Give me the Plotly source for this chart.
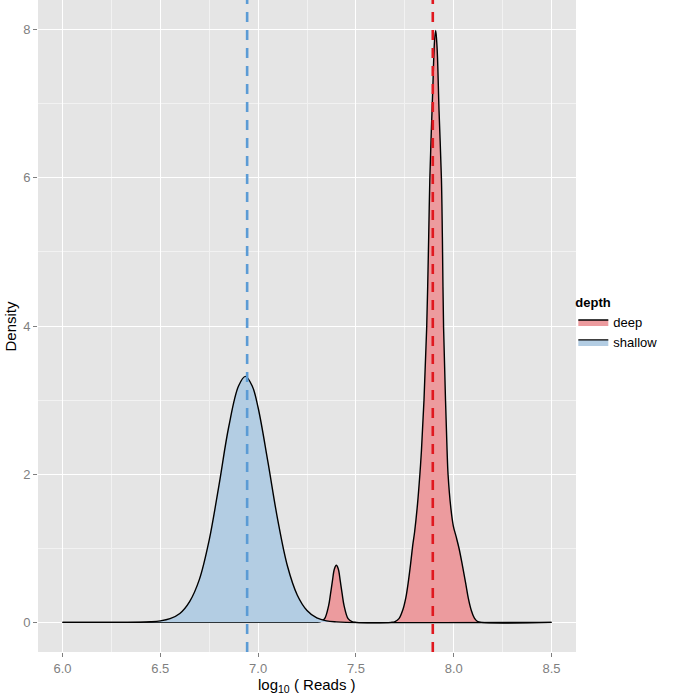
import plotly.graph_objects as go

# density estimates, log10(reads) vs density
shallow_x = [6.0, 6.40, 6.45, 6.50, 6.55, 6.60, 6.65, 6.70, 6.75, 6.80, 6.85, 6.90,
             6.935, 6.97, 7.00, 7.05, 7.10, 7.15, 7.20, 7.25, 7.30, 7.35, 7.40, 7.45, 8.5]
shallow_y = [0.0, 0.003, 0.008, 0.02, 0.05, 0.12, 0.28, 0.58, 1.11, 1.85, 2.64, 3.19,
             3.32, 3.19, 2.90, 2.17, 1.39, 0.76, 0.37, 0.16, 0.06, 0.02, 0.006, 0.0, 0.0]

deep_x = [6.0, 7.28, 7.30, 7.32, 7.34, 7.36, 7.37, 7.38, 7.39, 7.40, 7.41, 7.42, 7.43,
          7.44, 7.46, 7.48, 7.50, 7.68, 7.70, 7.72, 7.74, 7.755, 7.767, 7.78, 7.79,
          7.80, 7.815, 7.827, 7.835, 7.848, 7.862, 7.872, 7.878, 7.893, 7.902, 7.908,
          7.915, 7.925, 7.937, 7.942, 7.948, 7.958, 7.966, 7.971, 7.985, 7.998, 8.012,
          8.027, 8.045, 8.061, 8.075, 8.09, 8.105, 8.12, 8.14, 8.5]
deep_y = [0.0, 0.0, 0.0, 0.01, 0.05, 0.22, 0.38, 0.56, 0.72, 0.77, 0.72, 0.56, 0.38,
          0.22, 0.05, 0.01, 0.0, 0.0, 0.01, 0.05, 0.17, 0.33, 0.53, 0.80, 1.03,
          1.22, 1.60, 2.0, 2.32, 3.0, 4.0, 5.2, 6.0, 7.2, 7.85, 7.99,
          7.75, 6.9, 6.0, 5.2, 4.0, 3.0, 2.32, 2.0, 1.55, 1.30, 1.16,
          1.0, 0.76, 0.53, 0.32, 0.16, 0.06, 0.015, 0.0, 0.0]

depth_levels = ["deep", "shallow"]
depth_means = [7.893, 6.944]

x_ticks = [6.0, 6.5, 7.0, 7.5, 8.0, 8.5]
y_ticks = [0, 2, 4, 6, 8]

fill_colors = {"deep": "#EC9B9E", "shallow": "#B3CDE3"}
line_colors = {"deep": "#E0181F", "shallow": "#5B9BD5"}

FONT = "Liberation Sans, Arial, sans-serif"

fig = go.Figure()

curves = {"deep": (deep_x, deep_y), "shallow": (shallow_x, shallow_y)}
for level in depth_levels:
    xs, ys = curves[level]
    fig.add_trace(go.Scatter(
        x=xs, y=ys, name=level, mode="lines",
        line=dict(color="black", width=1.4, shape="spline", smoothing=1.0),
        fill="tozeroy", fillcolor=fill_colors[level],
    ))

# dashed mean lines
for level, m in zip(depth_levels, depth_means):
    fig.add_vline(x=m, line=dict(color=line_colors[level], width=2.6, dash="10px,8px"))

axis_font = dict(family=FONT, size=13, color="#7F7F7F")
fig.update_xaxes(
    range=[5.875, 8.625], tickvals=x_ticks, ticktext=[f"{v:.1f}" for v in x_ticks],
    showgrid=True, gridcolor="white", gridwidth=1.2, zeroline=False,
    minor=dict(dtick=0.25, tick0=6.0, showgrid=True, gridcolor="#F2F2F2", gridwidth=0.6),
    ticks="outside", ticklen=4, tickcolor="#7F7F7F", tickfont=axis_font,
    automargin=False,
)
fig.update_yaxes(
    range=[-0.4, 8.4], tickvals=y_ticks,
    showgrid=True, gridcolor="white", gridwidth=1.2, zeroline=False,
    minor=dict(dtick=1, tick0=0, showgrid=True, gridcolor="#F2F2F2", gridwidth=0.6),
    ticks="outside", ticklen=4, tickcolor="#7F7F7F", tickfont=axis_font,
    automargin=False,
)

# axis titles
fig.add_annotation(text="log<sub>10</sub> ( Reads )", xref="paper", yref="paper",
                   x=0.5, y=0, yanchor="top", yshift=-22, showarrow=False,
                   font=dict(family=FONT, size=15, color="black"))
fig.add_annotation(text="Density", xref="paper", yref="paper", textangle=-90,
                   x=0, y=0.5, xanchor="right", xshift=-18, showarrow=False,
                   font=dict(family=FONT, size=15, color="black"))

fig.update_layout(
    width=675, height=695,
    margin=dict(l=38, r=99, t=0, b=43),
    plot_bgcolor="#E5E5E5", paper_bgcolor="white",
    font=dict(family=FONT, size=13, color="black"),
    legend=dict(
        title=dict(text="<b>depth</b>", font=dict(size=13)),
        x=0.995, xanchor="left", y=0.555, yanchor="top",
        font=dict(size=13), tracegroupgap=0, itemwidth=30,
        bgcolor="rgba(0,0,0,0)",
    ),
)

# drop the default page margin so the figure sits at the window's corner
fig.write_html("out.html", config={"displayModeBar": False},
               post_script="document.body.style.margin='0';")
